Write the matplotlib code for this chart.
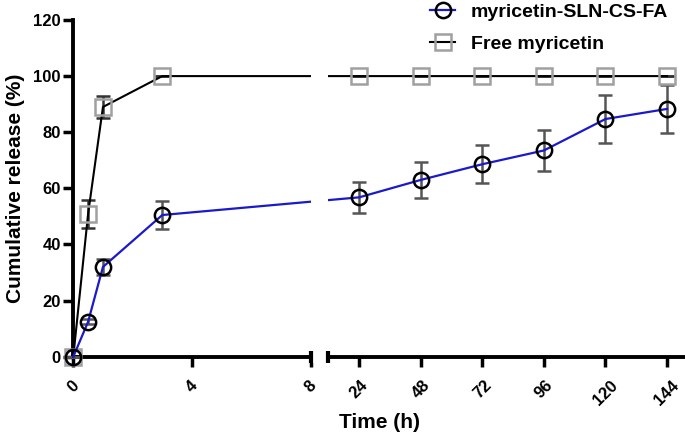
import numpy as np
import matplotlib
matplotlib.use("Agg")
import matplotlib.pyplot as plt

plt.rcParams['font.family'] = ['Liberation Sans', 'DejaVu Sans']
plt.rcParams['font.weight'] = 'bold'

# data
time_h = [0, 0.5, 1, 3, 24, 48, 72, 96, 120, 144]
sln_release = [0, 12.5, 32.0, 50.5, 56.8, 63.0, 68.6, 73.5, 84.7, 88.3]
sln_err = [0, 0.8, 3.0, 5.0, 5.6, 6.3, 6.7, 7.3, 8.4, 8.6]
free_release = [0, 51.0, 89.0, 100, 100, 100, 100, 100, 100, 100]
free_err = [0, 5.0, 4.0, 0, 0, 0, 0, 0, 0, 0]

xticks = [0, 4, 8, 24, 48, 72, 96, 120, 144]
yticks = [0, 20, 40, 60, 80, 100, 120]

# broken x axis: 0-8 h linear, gap, then 12-151 h compressed
K = 0.0865
GAP = 0.6


def fwd(x):
    x = np.asarray(x, dtype=float)
    return np.where(x <= 8, x,
                    np.where(x <= 12, 8 + (x - 8) * GAP / 4,
                             8 + GAP + (x - 12) * K))


def inv(u):
    u = np.asarray(u, dtype=float)
    return np.where(u <= 8, u,
                    np.where(u <= 8 + GAP, 8 + (u - 8) * 4 / GAP,
                             12 + (u - 8 - GAP) / K))


fig = plt.figure(figsize=(6.85, 4.34), dpi=100)
ax = fig.add_axes([0.107, 0.178, 0.893, 0.776])
ax.set_xscale('function', functions=(fwd, inv))

ax.errorbar(time_h, free_release, yerr=free_err, fmt='none', ecolor='#333333',
            elinewidth=1.8, capsize=5, capthick=1.8, zorder=3, clip_on=False)
ax.errorbar(time_h, sln_release, yerr=sln_err, fmt='none', ecolor='#555555',
            elinewidth=1.8, capsize=5, capthick=1.8, zorder=3, clip_on=False)

ax.plot(time_h, free_release, color='black', lw=1.5, marker='s', ms=11,
        mfc='none', mec='#a0a0a0', mew=1.8, label='Free myricetin',
        zorder=4, clip_on=False)
ax.plot(time_h, sln_release, color='#1a1acc', lw=1.6, marker='o', ms=11,
        mfc='none', mec='black', mew=1.8, label='myricetin-SLN-CS-FA',
        zorder=5, clip_on=False)

# gap in the axis
ax.axvspan(8, 12, ymin=-0.02, ymax=1.0, color='white', zorder=6, clip_on=False, lw=0)
ax.plot([8, 12], [0, 0], ls='none', marker='|', ms=9, mew=3, color='black',
        zorder=7, clip_on=False)

ax.set_xlim(0, 151)
ax.set_ylim(0, 120)
ax.set_xticks(xticks)
ax.set_xticklabels([str(t) for t in xticks], rotation=45, fontsize=12, fontweight='bold')
ax.set_yticks(yticks)
ax.set_yticklabels([str(t) for t in yticks], fontsize=12, fontweight='bold')
ax.minorticks_off()

for s in ['top', 'right']:
    ax.spines[s].set_visible(False)
for s in ['left', 'bottom']:
    ax.spines[s].set_linewidth(2.8)
ax.tick_params(axis='both', width=2.5, length=7)
ax.tick_params(axis='x', pad=8)
ax.tick_params(axis='y', pad=2)

ax.set_xlabel('Time (h)', fontsize=15, fontweight='bold', labelpad=4)
ax.set_ylabel('Cumulative release (%)', fontsize=15, fontweight='bold', labelpad=6)

handles, labels = ax.get_legend_handles_labels()
fig.legend(handles[::-1], labels[::-1], loc='upper left',
           bbox_to_anchor=(430 / 685, 1 - 3 / 434), frameon=False,
           prop={'weight': 'bold', 'size': 14}, handlelength=1.3,
           handletextpad=0.8, labelspacing=0.75, borderpad=0, borderaxespad=0)

fig.savefig('out.png', dpi=100)
